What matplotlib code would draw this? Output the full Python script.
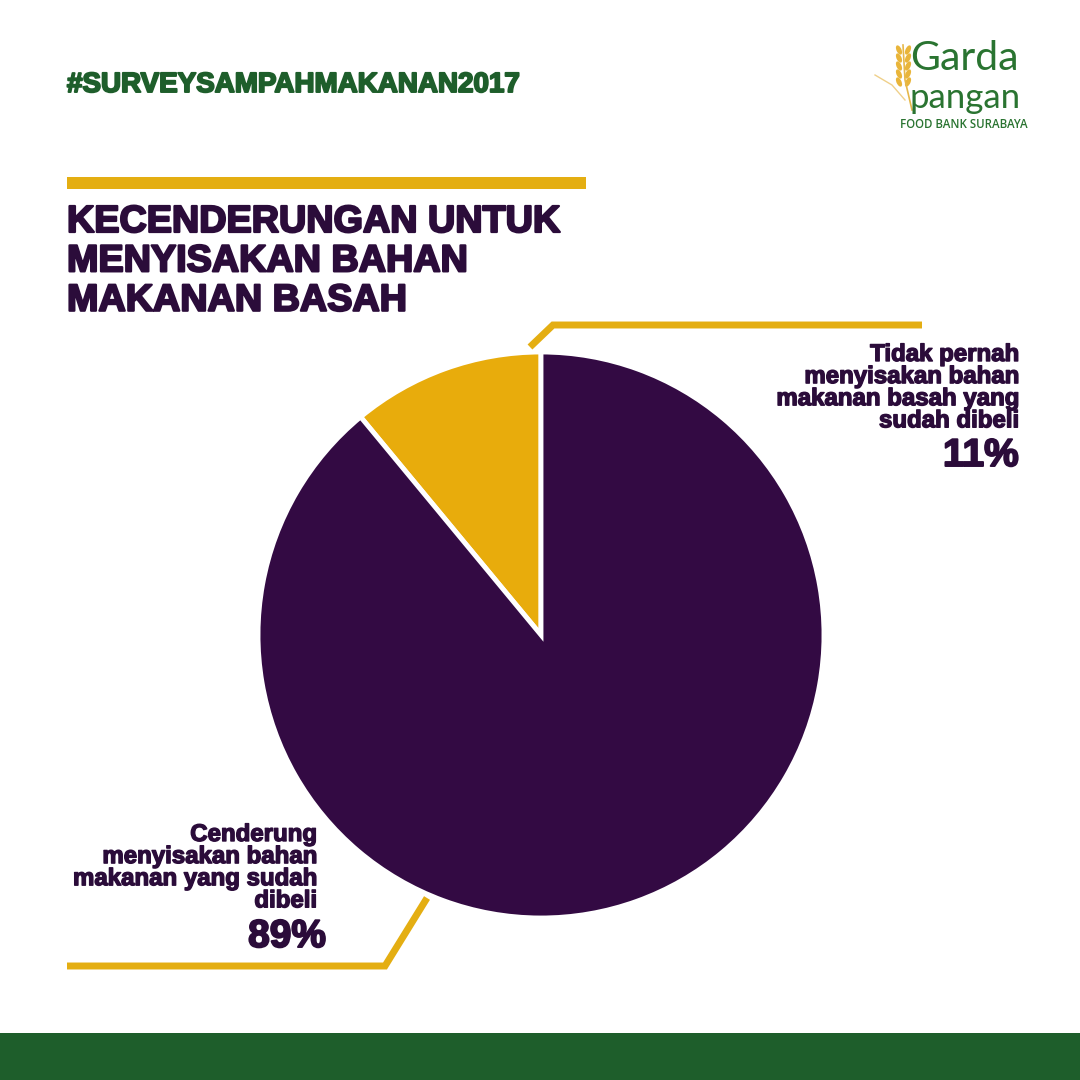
import matplotlib
matplotlib.use("Agg")
import matplotlib.pyplot as plt
from matplotlib.patches import Rectangle, Ellipse
import matplotlib.patheffects as pe

# ---- data ----
categories = ["Tidak pernah\nmenyisakan bahan\nmakanan basah yang\nsudah dibeli",
              "Cenderung\nmenyisakan bahan\nmakanan yang sudah\ndibeli"]
values = [11, 89]
pct_labels = ["11%", "89%"]
colors = ["#E8AC0C", "#330A43"]
hashtag = "#SURVEYSAMPAHMAKANAN2017"
title = "KECENDERUNGAN UNTUK\nMENYISAKAN BAHAN\nMAKANAN BASAH"

PURPLE_TXT = "#2B0C3A"
GREEN = "#1E5E2B"
GOLD = "#E4AE12"

W = H = 1080
fig = plt.figure(figsize=(10.8, 10.8), dpi=100)
ax = fig.add_axes([0, 0, 1, 1])
ax.set_xlim(0, W)
ax.set_ylim(0, H)
ax.set_aspect("equal")
ax.axis("off")

def Y(y):
    return H - y

FONT = "Liberation Sans"

def heavy(c, w):
    return [pe.withStroke(linewidth=w, foreground=c)]

# hashtag
ax.text(67, Y(85), hashtag, fontsize=20, fontweight="bold", color=GREEN,
        family=FONT, va="center", ha="left", path_effects=heavy(GREEN, 1.4))

# gold bar above title
ax.add_patch(Rectangle((67, Y(189)), 519, 12, color=GOLD, lw=0))

# title
ax.text(67, Y(204), title, fontsize=27.2, fontweight="bold", color=PURPLE_TXT,
        family=FONT, va="top", ha="left", linespacing=1.12,
        path_effects=heavy(PURPLE_TXT, 1.6))

# pie
wedges, _ = ax.pie(values, colors=colors, startangle=90, counterclock=True,
                   center=(541, Y(635)), radius=283,
                   wedgeprops=dict(edgecolor="white", linewidth=3.5))
ax.set_xlim(0, W)
ax.set_ylim(0, H)
ax.set_aspect("equal")

# leader lines
ax.plot([530, 553, 922], [Y(347), Y(325), Y(325)], color=GOLD, lw=5,
        solid_capstyle="butt", solid_joinstyle="miter")
ax.plot([427, 385, 67], [Y(898), Y(966), Y(966)], color=GOLD, lw=5,
        solid_capstyle="butt", solid_joinstyle="miter")

# labels
LS = 17.3
ax.text(1019, Y(343), categories[0], fontsize=LS, fontweight="bold",
        color=PURPLE_TXT, family=FONT, va="top", ha="right", linespacing=0.95,
        path_effects=heavy(PURPLE_TXT, 1.0))
ax.text(1019, Y(456), pct_labels[0], fontsize=28, fontweight="bold",
        color=PURPLE_TXT, family=FONT, va="center", ha="right",
        path_effects=heavy(PURPLE_TXT, 1.4))

ax.text(317, Y(823), categories[1], fontsize=LS, fontweight="bold",
        color=PURPLE_TXT, family=FONT, va="top", ha="right", linespacing=0.95,
        path_effects=heavy(PURPLE_TXT, 1.0))
ax.text(326, Y(937), pct_labels[1], fontsize=28, fontweight="bold",
        color=PURPLE_TXT, family=FONT, va="center", ha="right",
        path_effects=heavy(PURPLE_TXT, 1.4))

# bottom green band
ax.add_patch(Rectangle((0, 0), W, 47, color=GREEN, lw=0))

# logo
LOGO = "#2A7431"
ax.text(910, Y(59), "Garda", fontsize=29.5, color=LOGO, family="Lato",
        va="center", ha="left")
ax.text(910, Y(98), "pangan", fontsize=25, color=LOGO, family="Lato",
        va="center", ha="left")
ax.text(964, Y(125), "FOOD BANK SURABAYA", fontsize=8.3, color=LOGO,
        family="Open Sans", fontweight="semibold", va="center", ha="center")
# wheat icon
ax.plot([903, 905, 912], [Y(45), Y(80), Y(110)], color="#E6B84A", lw=1.2)
for yy in [50, 58, 66, 74, 82]:
    ax.add_patch(Ellipse((899, Y(yy)), 5, 10, angle=25, color="#E9B53A", lw=0))
    ax.add_patch(Ellipse((908, Y(yy)), 5, 10, angle=-25, color="#E9B53A", lw=0))
ax.plot([875, 892, 905], [Y(75), Y(85), Y(100)], color="#EFD08A", lw=1)

fig.savefig("out.png", dpi=100, facecolor="white")
